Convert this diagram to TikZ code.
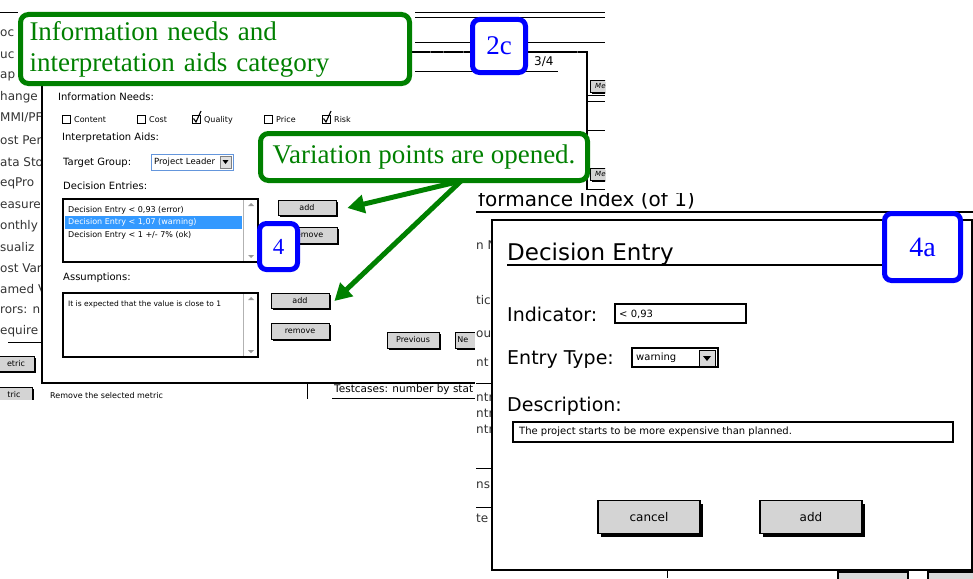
\documentclass[tikz,border=0pt]{standalone}
\usepackage{fontspec}
\setmainfont{Liberation Serif}
\newfontfamily\uifont{DejaVu Sans}
\usetikzlibrary{arrows.meta,shadows}

\definecolor{notegreen}{RGB}{0,128,0}
\definecolor{tagblue}{RGB}{0,0,255}
\definecolor{selblue}{RGB}{51,153,255}
\definecolor{combo}{RGB}{100,150,220}

\tikzset{
  callout/.style={draw=notegreen, line width=5pt, rounded corners=8pt, fill=white,
    text=notegreen, font=\fontsize{27}{31}\selectfont,
    drop shadow={shadow xshift=2pt, shadow yshift=-2pt, opacity=0.35}},
  tagbox/.style={draw=tagblue, line width=5pt, rounded corners=7pt, fill=white,
    text=tagblue, font=\fontsize{27}{31}\selectfont, inner sep=0pt,
    drop shadow={shadow xshift=2pt, shadow yshift=-2pt, opacity=0.35}},
  btn/.style={draw, line width=0.8pt, fill=black!17, inner sep=0pt,
    font=\uifont\fontsize{8}{9}\selectfont,
    drop shadow={shadow xshift=1.5pt, shadow yshift=-1.5pt, fill=black, opacity=1}},
  bigbtn/.style={draw, line width=1.2pt, fill=black!17, inner sep=0pt,
    font=\uifont\fontsize{12}{14}\selectfont,
    drop shadow={shadow xshift=3pt, shadow yshift=-3pt, fill=black, opacity=1}},
  lbl/.style={anchor=west, inner sep=0pt, font=\uifont\fontsize{10}{12}\selectfont},
  smalltxt/.style={anchor=west, inner sep=0pt, font=\uifont\fontsize{8}{9}\selectfont},
  cutlbl/.style={anchor=west, inner sep=0pt, font=\uifont\fontsize{12}{14}\selectfont, text=black!80},
  dlglbl/.style={anchor=base west, inner sep=0pt, font=\uifont\fontsize{19}{22}\selectfont},
  arr/.style={draw=notegreen, line width=5pt, -{Triangle[length=17pt,width=18pt]}},
}

\begin{document}
\begin{tikzpicture}[x=1pt, y=-1pt]
\useasboundingbox (0,0) rectangle (973,578);

% first screen: metric wizard
\begin{scope}
  \clip (0,0) rectangle (605,399);
  \draw (0,12) -- (18,12);
  \draw (415,12) -- (605,12) (415,17) -- (605,17) (415,42) -- (605,42);
  \begin{scope}
    \clip (0,0) rectangle (41,399);
    \foreach \y/\lab in {33/oc, 55/uc, 76/ap, 97/hange, 118/{MMI/PF}, 140/ost Per,
        162/ata Sto, 183/eqPro, 205/easure, 226/onthly, 247/sualiz, 268/ost Var,
        289/amed V, 310/rors: n, 331/equire}
      \node[cutlbl] at (0,\y) {\lab};
    \draw (8,342) -- (41,342);
  \end{scope}
  \node[btn, minimum width=37pt, minimum height=15pt] (metA) at (16,364) {etric};
  \node[btn, minimum width=37pt, minimum height=15pt] (metB) at (14,395) {tric};
  \node[smalltxt] (rmtxt) at (50,396) {Remove the selected metric};
  \draw (307,383) -- (307,399);
  \node[lbl, font=\uifont\fontsize{10.5}{12}\selectfont] (tc) at (334,390) {Testcases: number by stat};
  \draw (332,398) -- (475,398);
  % strip on the right
  \draw (587,95) -- (605,95) (587,101) -- (605,101) (587,130) -- (605,130)
        (587,189) -- (605,189) (587,194) -- (605,194);
  \node[btn, anchor=west, minimum width=20pt, minimum height=12pt, font=\uifont\fontsize{7}{8}\selectfont\itshape] (meA) at (590,86) {Me};
  \node[btn, anchor=west, minimum width=20pt, minimum height=12pt, font=\uifont\fontsize{7}{8}\selectfont\itshape] (meB) at (590,174) {Me};

  % wizard dialog
  \draw[line width=1.2pt, fill=white] (42,52) rectangle (587,383);
  \foreach \x in {430,443,463,577} \draw[line width=0.4pt, black!60] (\x,51) -- (\x,53.5);
  \draw (415,71) -- (558,71);
  \node[lbl, font=\uifont\fontsize{12}{14}\selectfont] (pg) at (534,62) {3/4};

  \node[lbl] (needs) at (58,97) {Information Needs:};
  \foreach \x/\lab in {62/Content, 137/Cost, 192/Quality, 264/Price, 322/Risk} {
    \draw[line width=0.9pt] (\x,115) rectangle +(8,8);
    \node[smalltxt] at (\x+12,120) {\lab};
  }
  \foreach \x in {192,322}
    \draw[line width=1.1pt] (\x+1.5,118.5) -- (\x+4,122) -- (\x+9,111);
  \node[lbl] (aids) at (62,138) {Interpretation Aids:};
  \node[lbl] (tg) at (63,163) {Target Group:};
  \draw[combo, line width=1pt, fill=white] (151,154) rectangle (233,170);
  \node[smalltxt, font=\uifont\fontsize{8.5}{10}\selectfont] (lead) at (154,162) {Project Leader};
  \draw[gray, fill=black!12] (220,156) rectangle (231,168);
  \fill (222.5,160) -- (228.5,160) -- (225.5,164) -- cycle;

  \node[lbl] (dec) at (63,186) {Decision Entries:};
  \draw[line width=1.2pt, fill=white] (63,199) rectangle (258,262);
  \fill[selblue] (65,216) rectangle (242,229);
  \draw[black!30] (243,200) -- (243,261);
  \node[smalltxt] (e1) at (68,210) {Decision Entry < 0,93 (error)};
  \node[smalltxt, text=white] (e2) at (68,222) {Decision Entry < 1,07 (warning)};
  \node[smalltxt] (e3) at (68,235) {Decision Entry < 1 +/- 7\% (ok)};
  \node[btn, minimum width=58pt, minimum height=15pt] (addA) at (307,208) {add};
  \node[btn, minimum width=58pt, minimum height=16pt] (remA) at (308,235) {remove};

  \node[lbl] (ass) at (63,278) {Assumptions:};
  \draw[line width=1.2pt, fill=white] (63,293) rectangle (258,357);
  \draw[black!30] (243,294) -- (243,356);
  \node[smalltxt, font=\uifont\fontsize{7.5}{9}\selectfont] (txt) at (68,304) {It is expected that the value is close to 1};
  \foreach \y in {206,300} \fill[black!40] (248,\y) -- (254,\y) -- (251,\y-3) -- cycle;
  \foreach \y in {255,350} \fill[black!40] (248,\y) -- (254,\y) -- (251,\y+3) -- cycle;
  \node[btn, minimum width=58pt, minimum height=15pt] (addB) at (300,301) {add};
  \node[btn, minimum width=58pt, minimum height=16pt] (remB) at (300,331) {remove};
  \node[btn, minimum width=52pt, minimum height=16pt] (prev) at (413,340) {Previous};
  \node[btn, anchor=west, minimum width=40pt, minimum height=16pt, text width=36pt, align=left] (next) at (455,340) {Ne};
\end{scope}

% second screen: indicator page
\fill[white] (475,190) rectangle (973,578);
\begin{scope}
  \clip (475,193) rectangle (973,578);
  \node[anchor=base west, inner sep=0pt, font=\uifont\fontsize{20}{22}\selectfont] (perf) at (478,206) {formance Index (of 1)};
  \draw[line width=1.2pt] (476,212) -- (973,212);
  \foreach \y/\lab in {245/n N, 300/tic, 334/ou, 362/nt, 397/ntr, 413/ntr, 429/ntr, 485/ns:, 518/te}
    \node[cutlbl] at (476,\y) {\lab};
  \draw (476,383) -- (492,383) (476,468) -- (492,468) (476,507) -- (492,507);
  \draw (667,568) -- (667,578);
  \draw[line width=1.5pt, fill=black!15] (838,572) rectangle (908,590);
  \draw[line width=1.5pt, fill=black!15] (928,572) rectangle (990,590);
\end{scope}

% decision entry dialog
\draw[line width=1.3pt, fill=white] (492,220) rectangle (972,570);
\node[anchor=base west, inner sep=0pt, font=\uifont\fontsize{23}{26}\selectfont] (title) at (507,260) {Decision Entry};
\draw[line width=1.2pt] (507,265) -- (885,265);
\node[dlglbl] (ind) at (507,321) {Indicator:};
\draw[line width=1.4pt, fill=white] (615,304) rectangle (746,323);
\node[smalltxt, font=\uifont\fontsize{10}{12}\selectfont] (indv) at (619,314) {< 0,93};
\node[dlglbl] (etype) at (507,364) {Entry Type:};
\draw[line width=1.2pt, fill=white] (632,348) rectangle (718,367);
\node[smalltxt, font=\uifont\fontsize{10}{12}\selectfont] (warn) at (636,357.5) {warning};
\draw[fill=black!15] (699,350) rectangle (715,366);
\fill (703,356) -- (711,356) -- (707,361) -- cycle;
\node[dlglbl] (desc) at (507,411) {Description:};
\draw[line width=1.4pt, fill=white] (513,422) rectangle (953,442);
\node[smalltxt, font=\uifont\fontsize{10}{12}\selectfont] (descv) at (519,432) {The project starts to be more expensive than planned.};
\node[bigbtn, minimum width=102pt, minimum height=33pt] (cancel) at (649,517) {cancel};
\node[bigbtn, minimum width=102pt, minimum height=33pt] (addC) at (811,517) {add};

% notes and arrows
\coordinate (fork) at (461,181);
\draw[arr] (fork) -- ([xshift=11pt]addA.east);
\draw[arr] (fork) -- ([xshift=5pt]addB.east);
\node[callout, minimum width=389pt, minimum height=69pt, align=left, text width=371pt, inner xsep=9pt] (info) at (215,49) {Information needs and\\interpretation aids category};
\node[callout, minimum width=327pt, minimum height=47pt] (vary) at (424,157) {Variation points are opened.};

\node[tagbox, minimum width=53pt, minimum height=53pt] (t2c) at (499,46) {2c};
\node[tagbox, minimum width=38pt, minimum height=46pt, font=\fontsize{23}{26}\selectfont] (t4) at (278.5,246.5) {4};
\node[tagbox, minimum width=76pt, minimum height=67pt, font=\fontsize{28}{31}\selectfont] (t4a) at (922.5,247) {4a};
\end{tikzpicture}
\end{document}
